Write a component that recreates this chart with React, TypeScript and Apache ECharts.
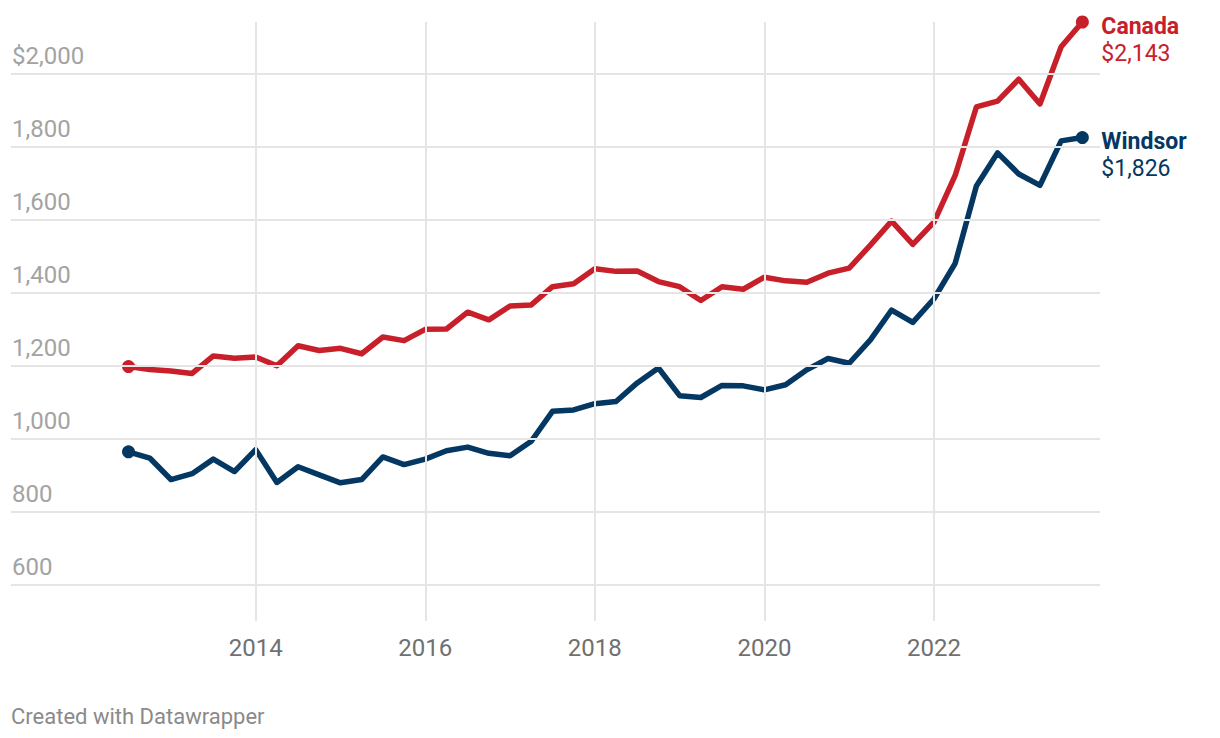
import React, { useEffect, useRef } from "react";
import * as echarts from "echarts";

// Quarterly dates (decimal years), Q3 2012 .. Q4 2023
const quarters = [
  2012.5, 2012.75, 2013.0, 2013.25, 2013.5, 2013.75, 2014.0, 2014.25, 2014.5, 2014.75,
  2015.0, 2015.25, 2015.5, 2015.75, 2016.0, 2016.25, 2016.5, 2016.75, 2017.0, 2017.25,
  2017.5, 2017.75, 2018.0, 2018.25, 2018.5, 2018.75, 2019.0, 2019.25, 2019.5, 2019.75,
  2020.0, 2020.25, 2020.5, 2020.75, 2021.0, 2021.25, 2021.5, 2021.75, 2022.0, 2022.25,
  2022.5, 2022.75, 2023.0, 2023.25, 2023.5, 2023.75,
];

const canada = [
  1198, 1190, 1186, 1179, 1227, 1221, 1224, 1200, 1255, 1242,
  1248, 1233, 1279, 1269, 1300, 1301, 1347, 1326, 1364, 1367,
  1417, 1425, 1466, 1459, 1460, 1431, 1417, 1379, 1417, 1410,
  1443, 1433, 1429, 1454, 1468, 1531, 1597, 1533, 1594, 1722,
  1910, 1926, 1986, 1918, 2075, 2143,
];

const windsor = [
  964, 947, 888, 904, 944, 910, 970, 880, 923, 901,
  879, 888, 950, 929, 944, 967, 977, 960, 953, 993,
  1075, 1079, 1096, 1102, 1153, 1194, 1118, 1113, 1146, 1145,
  1134, 1148, 1189, 1220, 1207, 1271, 1353, 1319, 1384, 1481,
  1693, 1784, 1726, 1695, 1817, 1826,
];

const yTicks = [600, 800, 1000, 1200, 1400, 1600, 1800, 2000];
const yTickLabels = ["600", "800", "1,000", "1,200", "1,400", "1,600", "1,800", "$2,000"];
const xTicks = [2014, 2016, 2018, 2020, 2022];

const seriesNames = ["Canada", "Windsor"];
const endValueLabels = ["$2,143", "$1,826"];

const RED = "#c8202a";
const NAVY = "#053763";
const GRID = "#e5e5e5";
const FONT = "Roboto";

export default function App() {
  const ref = useRef<HTMLDivElement>(null);

  useEffect(() => {
    if (!ref.current) return;
    const chart = echarts.init(ref.current, null, { renderer: "svg" });
    const last = quarters.length - 1;
    const dotSize = (_v: any, p: any) =>
      p.dataIndex === 0 || p.dataIndex === last ? 13 : 0;

    const mk = (vals: number[]) => quarters.map((q, i) => [q, vals[i]]);

    chart.setOption({
      animation: false,
      backgroundColor: "#ffffff",
      textStyle: { fontFamily: FONT },
      grid: { left: 11, right: 120, top: 22, bottom: 117, containLabel: false },
      xAxis: {
        type: "value",
        min: 2011.114,
        max: 2023.958,
        axisLine: { show: false },
        axisTick: { show: false },
        splitLine: { show: false },
        axisLabel: {
          customValues: xTicks,
          fontSize: 24,
          color: "#707070",
          fontFamily: FONT,
          margin: 27,
          verticalAlign: "middle",
          formatter: (v: number) => String(v),
        },
      },
      yAxis: {
        type: "value",
        min: 500,
        max: 2143,
        axisLine: { show: false },
        axisTick: { show: false },
        splitLine: { show: false },
        axisLabel: { show: false },
      },
      series: [
        {
          type: "line",
          name: "grid",
          data: mk(windsor),
          symbol: "none",
          lineStyle: { opacity: 0 },
          silent: true,
          z: 1,
          markLine: {
            silent: true,
            symbol: "none",
            animation: false,
            label: { show: false },
            lineStyle: { color: GRID, width: 2, type: "solid" },
            data: [
              ...yTicks.map((v) => ({ yAxis: v })),
              ...xTicks.map((v) => ({ xAxis: v })),
            ],
          },
        },
        {
          type: "line",
          name: seriesNames[0],
          data: mk(canada),
          symbol: "circle",
          symbolSize: dotSize,
          showAllSymbol: true,
          clip: false,
          z: 3,
          lineStyle: { color: RED, width: 5.5, join: "round" },
          itemStyle: { color: RED },
        },
        {
          type: "line",
          name: seriesNames[1],
          data: mk(windsor),
          symbol: "circle",
          symbolSize: dotSize,
          showAllSymbol: true,
          clip: false,
          z: 3,
          lineStyle: { color: NAVY, width: 5.5, join: "round" },
          itemStyle: { color: NAVY },
        },
      ],
    });

    const graphics: any[] = [];
    yTicks.forEach((v, i) => {
      const py = chart.convertToPixel({ yAxisIndex: 0 }, v) as number;
      graphics.push({
        type: "text",
        x: 12,
        y: py - 18,
        style: {
          text: yTickLabels[i],
          fill: "#a3a3a3",
          font: `24px ${FONT}`,
          align: "left",
          verticalAlign: "middle",
        },
      });
    });
    const ends = [canada[canada.length - 1], windsor[windsor.length - 1]];
    const colors = [RED, NAVY];
    ends.forEach((v, i) => {
      const p = chart.convertToPixel({ seriesIndex: i + 1 }, [quarters[last], v]) as number[];
      graphics.push({
        type: "text",
        x: p[0] + 19,
        y: p[1] + 4,
        style: {
          text: seriesNames[i],
          fill: colors[i],
          font: `bold 23px ${FONT}`,
          align: "left",
          verticalAlign: "middle",
        },
      });
      graphics.push({
        type: "text",
        x: p[0] + 19,
        y: p[1] + 31,
        style: {
          text: endValueLabels[i],
          fill: colors[i],
          font: `23px ${FONT}`,
          align: "left",
          verticalAlign: "middle",
        },
      });
    });
    graphics.push({
      type: "text",
      x: 11,
      y: 716,
      style: {
        text: "Created with Datawrapper",
        fill: "#8a8a8a",
        font: `22px ${FONT}`,
        align: "left",
        verticalAlign: "middle",
      },
    });
    chart.setOption({ graphic: graphics });

    return () => chart.dispose();
  }, []);

  return (
    <div
      ref={ref}
      style={{ position: "fixed", left: 0, top: 0, width: 1220, height: 738 }}
    />
  );
}
